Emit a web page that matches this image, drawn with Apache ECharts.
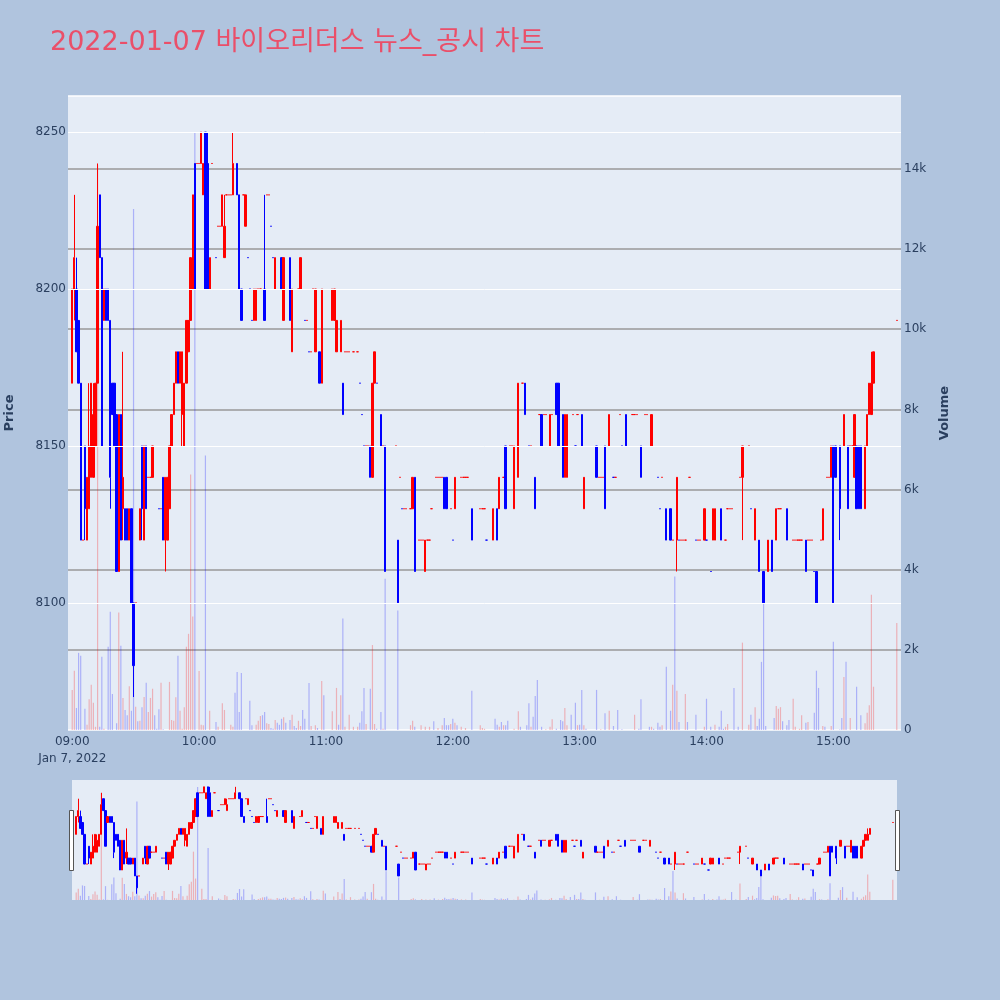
<!DOCTYPE html>
<html><head><meta charset="utf-8">
<script src="https://cdn.jsdelivr.net/npm/echarts@6/dist/echarts.min.js"></script>
<style>html,body{margin:0;padding:0;background:#b0c4de;}#c{width:1000px;height:1000px;}</style>
</head><body><div id="c"></div>
<script>
const TITLE = '2022-01-07 바이오리더스 뉴스_공시 차트';
const DAY_LABEL = 'Jan 7, 2022';
const priceTicks = [8100, 8150, 8200, 8250];
const hourTicks = ['09:00','10:00','11:00','12:00','13:00','14:00','15:00'];

// one-minute candles (minutes without trades are absent)
const candleTimes = [
 '09:00','09:01','09:02','09:03','09:04','09:05','09:06','09:07','09:08','09:09',
 '09:10','09:11','09:12','09:13','09:14','09:15','09:16','09:17','09:18','09:19',
 '09:20','09:21','09:22','09:23','09:24','09:25','09:26','09:27','09:28','09:29',
 '09:30','09:32','09:33','09:34','09:35','09:36','09:37','09:38','09:41','09:42',
 '09:43','09:44','09:45','09:46','09:47','09:48','09:49','09:50','09:51','09:52',
 '09:53','09:54','09:55','09:56','09:57','09:58','09:59',
 '10:00','10:01','10:02','10:03','10:04','10:05','10:06','10:08','10:09','10:10',
 '10:11','10:12','10:13','10:14','10:15','10:16','10:18','10:19','10:20','10:21',
 '10:22','10:23','10:24','10:25','10:26','10:27','10:28','10:29','10:31','10:32',
 '10:33','10:34','10:35','10:36','10:39','10:40','10:43','10:44','10:47','10:48',
 '10:50','10:51','10:52','10:53','10:54','10:55','10:57','10:58',
 '11:03','11:04','11:05','11:07','11:08','11:09','11:10','11:11','11:13','11:15',
 '11:16','11:17','11:18','11:19','11:20','11:21','11:22','11:23','11:24','11:26',
 '11:27','11:28','11:33','11:34','11:35','11:36','11:37','11:38','11:40','11:41',
 '11:42','11:44','11:45','11:46','11:47','11:48','11:49','11:50','11:52','11:53',
 '11:54','11:55','11:56','11:57','11:59',
 '12:00','12:01','12:04','12:05','12:06','12:07','12:09','12:13','12:14','12:15',
 '12:16','12:19','12:21','12:22','12:24','12:25','12:27','12:28','12:29','12:31',
 '12:33','12:34','12:36','12:37','12:39','12:41','12:42','12:43','12:44','12:46',
 '12:47','12:49','12:50','12:52','12:53','12:54','12:57','12:58','12:59',
 '13:01','13:02','13:08','13:09','13:10','13:11','13:12','13:14','13:16','13:17',
 '13:19','13:20','13:22','13:25','13:26','13:27','13:29','13:31','13:32','13:34',
 '13:37','13:38','13:39','13:41','13:43','13:44','13:46','13:47','13:48','13:49',
 '13:50','13:52','13:55','13:56','13:57','13:59',
 '14:00','14:02','14:03','14:04','14:07','14:09','14:10','14:11','14:12','14:16',
 '14:17','14:20','14:21','14:23','14:25','14:27','14:29','14:31','14:33','14:34',
 '14:35','14:38','14:41','14:42','14:43','14:44','14:45','14:47','14:48','14:49',
 '14:50','14:51','14:52','14:54','14:55','14:57','14:58','14:59',
 '15:00','15:01','15:03','15:05','15:07','15:08','15:09','15:10','15:11','15:12',
 '15:13','15:15','15:16','15:17','15:18','15:19','15:30'
];
const opens = [
 8170,8200,8200,8190,8170,8120,8150,8120,8130,8140,
 8140,8150,8170,8230,8210,8190,8200,8200,8190,8170,
 8170,8160,8110,8160,8130,8130,8130,8120,8130,8100,
 8100,8120,8150,8120,8150,8140,8140,8140,8130,8130,
 8140,8120,8120,8130,8150,8160,8170,8180,8170,8160,
 8150,8170,8180,8190,8200,8240,8240,
 8240,8240,8230,8250,8240,8200,8240,8210,8220,8220,
 8220,8210,8230,8230,8230,8230,8240,8230,8200,8230,
 8220,8210,8200,8190,8190,8190,8200,8200,8200,8230,
 8230,8220,8210,8200,8210,8190,8210,8180,8200,8200,
 8190,8190,8180,8180,8200,8180,8180,8170,
 8190,8190,8180,8180,8170,8180,8180,8180,8180,8180,
 8170,8160,8150,8150,8150,8150,8140,8170,8170,8160,
 8150,8150,8150,8120,8140,8130,8130,8130,8130,8130,
 8140,8120,8120,8120,8110,8120,8120,8130,8140,8140,
 8140,8140,8140,8140,8130,
 8120,8130,8140,8140,8140,8140,8130,8130,8130,8130,
 8120,8120,8130,8130,8140,8150,8150,8150,8130,8140,
 8170,8170,8150,8150,8140,8160,8160,8160,8160,8150,
 8160,8170,8170,8160,8140,8140,8160,8150,8160,
 8160,8130,8150,8140,8140,8140,8150,8150,8140,8140,
 8160,8150,8160,8160,8160,8160,8150,8160,8160,8150,
 8140,8130,8140,8130,8130,8120,8120,8120,8120,8120,
 8120,8140,8120,8120,8120,8120,
 8120,8110,8120,8120,8130,8120,8130,8130,8130,8140,
 8140,8150,8130,8120,8120,8110,8110,8120,8120,8130,
 8130,8130,8120,8120,8120,8120,8120,8120,8120,8120,
 8120,8110,8110,8120,8120,8140,8140,8140,
 8150,8150,8150,8150,8150,8150,8150,8140,8150,8150,
 8150,8130,8150,8160,8160,8170,8190
];
const highs = [
 8200,8230,8210,8190,8170,8120,8150,8140,8170,8170,
 8170,8170,8240,8230,8210,8200,8200,8200,8190,8170,
 8170,8160,8160,8160,8180,8130,8130,8130,8130,8100,
 8100,8130,8150,8150,8150,8140,8140,8150,8130,8130,
 8140,8140,8140,8150,8160,8170,8180,8180,8180,8180,
 8170,8190,8190,8210,8230,8240,8240,
 8240,8250,8240,8250,8250,8210,8240,8210,8220,8220,
 8230,8230,8230,8230,8230,8250,8240,8230,8200,8230,
 8230,8210,8200,8190,8200,8200,8200,8200,8230,8230,
 8230,8220,8210,8210,8210,8210,8210,8200,8200,8210,
 8190,8190,8180,8180,8200,8200,8180,8200,
 8200,8200,8190,8190,8170,8180,8180,8180,8180,8180,
 8170,8160,8150,8150,8150,8150,8170,8180,8170,8160,
 8150,8150,8150,8120,8140,8130,8130,8130,8130,8140,
 8140,8120,8120,8120,8120,8120,8120,8130,8140,8140,
 8140,8140,8140,8140,8130,
 8120,8140,8140,8140,8140,8140,8130,8130,8130,8130,
 8120,8130,8130,8140,8140,8150,8150,8150,8150,8170,
 8170,8170,8150,8150,8140,8160,8160,8160,8160,8160,
 8160,8170,8170,8160,8160,8160,8160,8150,8160,
 8160,8140,8150,8140,8140,8140,8150,8160,8140,8140,
 8160,8150,8160,8160,8160,8160,8150,8160,8160,8160,
 8140,8130,8140,8130,8130,8120,8140,8120,8120,8120,
 8120,8140,8120,8120,8120,8130,
 8120,8110,8130,8130,8130,8120,8130,8130,8130,8140,
 8150,8150,8130,8130,8120,8110,8120,8120,8130,8130,
 8130,8130,8120,8120,8120,8120,8120,8120,8120,8120,
 8120,8110,8110,8120,8130,8140,8140,8150,
 8150,8150,8150,8160,8150,8150,8150,8160,8150,8150,
 8150,8150,8160,8170,8180,8180,8190
];
const lows = [
 8170,8190,8180,8170,8120,8120,8120,8120,8130,8140,
 8140,8150,8170,8210,8150,8190,8190,8190,8130,8160,
 8150,8110,8110,8120,8120,8120,8120,8120,8100,8070,
 8100,8120,8120,8120,8130,8140,8140,8140,8130,8130,
 8120,8110,8120,8130,8150,8160,8170,8170,8170,8150,
 8150,8170,8180,8190,8200,8200,8240,
 8240,8240,8230,8200,8200,8200,8240,8210,8220,8220,
 8220,8210,8230,8230,8230,8230,8230,8200,8190,8230,
 8220,8210,8200,8190,8190,8190,8200,8200,8190,8230,
 8230,8220,8210,8200,8200,8190,8190,8180,8200,8200,
 8190,8190,8180,8180,8200,8180,8170,8170,
 8190,8190,8180,8180,8160,8180,8180,8180,8180,8180,
 8170,8160,8150,8150,8150,8140,8140,8170,8170,8150,
 8150,8110,8150,8100,8140,8130,8130,8130,8130,8130,
 8110,8120,8120,8120,8110,8120,8120,8130,8140,8140,
 8140,8140,8130,8130,8130,
 8120,8130,8140,8140,8140,8140,8120,8130,8130,8130,
 8120,8120,8120,8130,8140,8130,8150,8150,8130,8140,
 8170,8160,8150,8150,8130,8160,8150,8160,8160,8150,
 8160,8160,8150,8140,8140,8140,8160,8150,8160,
 8150,8130,8140,8140,8140,8140,8130,8150,8140,8140,
 8160,8150,8150,8160,8160,8160,8140,8160,8160,8150,
 8140,8130,8140,8120,8120,8120,8110,8120,8120,8120,
 8120,8140,8120,8120,8120,8120,
 8120,8110,8120,8120,8120,8120,8130,8130,8130,8140,
 8120,8150,8130,8120,8110,8100,8110,8110,8120,8130,
 8130,8120,8120,8120,8120,8120,8120,8110,8120,8120,
 8120,8110,8100,8120,8120,8140,8140,8140,
 8100,8140,8120,8150,8130,8150,8150,8140,8130,8130,
 8130,8130,8150,8160,8160,8170,8190
];
const closes = [
 8200,8210,8180,8170,8120,8120,8130,8140,8150,8170,
 8160,8170,8220,8210,8150,8200,8190,8190,8140,8160,
 8150,8110,8160,8120,8140,8120,8120,8130,8100,8080,
 8100,8130,8130,8150,8130,8140,8140,8150,8130,8130,
 8120,8140,8140,8150,8160,8170,8180,8170,8180,8180,
 8170,8190,8190,8210,8230,8200,8240,
 8240,8250,8240,8200,8200,8210,8240,8210,8220,8220,
 8230,8220,8230,8230,8230,8240,8230,8200,8190,8230,
 8230,8210,8200,8190,8200,8200,8200,8200,8190,8230,
 8230,8220,8210,8210,8200,8210,8190,8200,8200,8210,
 8190,8190,8180,8180,8200,8200,8170,8200,
 8200,8200,8190,8190,8160,8180,8180,8180,8180,8180,
 8170,8160,8150,8150,8150,8140,8170,8180,8170,8150,
 8150,8110,8150,8100,8140,8130,8130,8130,8130,8140,
 8110,8120,8120,8120,8120,8120,8120,8130,8140,8140,
 8140,8140,8130,8130,8130,
 8120,8140,8140,8140,8140,8140,8120,8130,8130,8130,
 8120,8130,8120,8140,8140,8130,8150,8150,8150,8170,
 8170,8160,8150,8150,8130,8160,8150,8160,8160,8160,
 8160,8160,8150,8140,8160,8160,8160,8150,8160,
 8150,8140,8140,8140,8140,8140,8130,8160,8140,8140,
 8160,8150,8150,8160,8160,8160,8140,8160,8160,8160,
 8140,8130,8140,8120,8120,8120,8140,8120,8120,8120,
 8120,8140,8120,8120,8120,8130,
 8120,8110,8130,8130,8120,8120,8130,8130,8130,8140,
 8150,8150,8130,8130,8110,8100,8120,8110,8130,8130,
 8130,8120,8120,8120,8120,8120,8120,8110,8120,8120,
 8120,8110,8100,8120,8130,8140,8140,8150,
 8100,8140,8130,8160,8130,8150,8150,8160,8130,8130,
 8130,8150,8160,8170,8170,8180,8190
];

// one-minute volume
const volTimes = [
 '09:00','09:01','09:02','09:03','09:04','09:06','09:07','09:08','09:09','09:10',
 '09:11','09:12','09:13','09:14','09:15','09:17','09:18','09:19','09:21','09:22',
 '09:23','09:24','09:25','09:26','09:27','09:28','09:29','09:30','09:31','09:32',
 '09:33','09:34','09:35','09:36','09:37','09:38','09:39','09:40','09:41','09:42',
 '09:43','09:46','09:47','09:48','09:49','09:50','09:51','09:52','09:53','09:54',
 '09:55','09:56','09:57','09:58',
 '10:00','10:01','10:02','10:03','10:05','10:08','10:09','10:11','10:12','10:15',
 '10:16','10:17','10:18','10:19','10:20','10:24','10:25','10:27','10:28','10:29',
 '10:30','10:31','10:32','10:33','10:34','10:35','10:36','10:37','10:38','10:39',
 '10:40','10:41','10:43','10:44','10:45','10:46','10:47','10:48','10:49','10:50',
 '10:52','10:53','10:55','10:56','10:58','10:59',
 '11:03','11:05','11:06','11:07','11:08','11:09','11:11','11:13','11:15','11:16',
 '11:17','11:18','11:19','11:21','11:22','11:23','11:24','11:26','11:27','11:28',
 '11:34','11:40','11:41','11:42','11:45','11:47','11:49','11:51','11:53','11:55',
 '11:56','11:57','11:58','11:59',
 '12:00','12:01','12:02','12:04','12:06','12:09','12:13','12:14','12:15','12:20',
 '12:21','12:22','12:23','12:24','12:25','12:26','12:29','12:31','12:32','12:35',
 '12:36','12:37','12:38','12:39','12:40','12:42','12:44','12:46','12:47','12:49',
 '12:51','12:52','12:53','12:54','12:56','12:58','12:59',
 '13:00','13:01','13:02','13:03','13:08','13:10','13:12','13:14','13:16','13:18',
 '13:20','13:26','13:28','13:29','13:33','13:34','13:35','13:37','13:38','13:39',
 '13:41','13:43','13:44','13:45','13:46','13:47','13:50','13:51','13:55','13:59',
 '14:00','14:02','14:04','14:06','14:07','14:08','14:09','14:10','14:13','14:15',
 '14:17','14:20','14:21','14:23','14:24','14:25','14:26','14:27','14:28','14:32',
 '14:33','14:34','14:35','14:36','14:38','14:39','14:41','14:42','14:44','14:45',
 '14:47','14:48','14:51','14:52','14:53','14:55','14:56','14:59',
 '15:00','15:03','15:04','15:05','15:06','15:08','15:11','15:13','15:15','15:16',
 '15:17','15:18','15:19','15:30'
];
const volumes = [
 1000,1480,550,1925,1850,530,130,770,1130,680,
 80,14100,80,1830,30,2075,2950,900,170,2930,
 2100,800,500,370,1090,480,13000,580,220,230,
 570,825,1180,450,800,1030,370,30,520,1180,
 20,1200,250,230,820,1850,480,30,570,2080,
 2400,6375,2830,14900,
 1470,130,120,6850,480,200,80,670,500,130,
 80,930,1450,450,1420,730,120,130,230,350,
 370,450,170,150,50,30,250,180,130,280,
 320,180,250,380,100,50,230,100,500,280,
 1170,100,120,50,1220,870,
 470,1050,130,870,2780,80,380,80,80,180,
 470,1050,150,1030,2120,150,30,450,30,3775,
 2980,120,230,80,120,80,80,220,50,120,
 300,120,120,150,
 280,180,120,80,50,980,120,50,30,280,
 130,80,200,120,120,230,30,470,80,120,
 670,80,330,850,1250,80,20,80,270,30,
 250,220,550,120,380,680,120,
 130,1000,120,30,1000,20,420,480,100,500,
 20,380,30,770,80,80,30,180,80,120,
 1580,480,1130,3830,980,200,900,200,380,80,
 780,80,130,80,480,30,80,150,1050,80,
 2180,130,380,570,100,280,1700,3275,100,300,
 600,530,570,220,120,250,780,80,30,370,
 180,200,430,1480,1050,100,80,100,
 2200,10,300,1320,1700,300,1080,370,170,430,
 620,3375,1080,2670
];

// ---- build ----
const START = 9 * 60, FIRST = -2, LAST = 392;
const pad = n => String(n).padStart(2, '0');
const toLabel = m => pad(Math.floor((START + m) / 60)) + ':' + pad((START + m) % 60);
const cats = [];
for (let m = FIRST; m <= LAST; m++) cats.push(toLabel(m));
const idxOf = t => cats.indexOf(t);
const UP = '#ff0000', DOWN = '#0000ff';
const VUP = 'rgba(255,0,0,0.25)', VDOWN = 'rgba(0,0,255,0.25)';

const candleData = cats.map(() => ['-', '-', '-', '-']);
const dirAt = {};
let prevClose = null;
candleTimes.forEach((t, i) => {
  const o = opens[i], c = closes[i];
  const up = c > o || (c === o && (prevClose === null || c >= prevClose));
  prevClose = c;
  dirAt[t] = up;
  const col = up ? UP : DOWN;
  candleData[idxOf(t)] = {
    value: [o, c, lows[i], highs[i]],
    itemStyle: { color: col, color0: col, borderColor: col, borderColor0: col }
  };
});
const volData = cats.map(() => '-');
volTimes.forEach((t, i) => {
  volData[idxOf(t)] = { value: volumes[i], itemStyle: { color: dirAt[t] ? VUP : VDOWN } };
});

const FONT = 'DejaVu Sans, Noto Sans CJK KR, sans-serif';
const TXT = '#2a3f5f';
const PMIN = 8059.5, PMAX = 8261.5, VMAX = 15820;

const chart = echarts.init(document.getElementById('c'), null, { renderer: 'canvas' });
chart.setOption({
  animation: false,
  backgroundColor: '#b0c4de',
  title: {
    text: TITLE, left: 45, top: 24,
    textStyle: { fontSize: 27, color: '#ea4f69', fontWeight: 'normal', fontFamily: FONT }
  },
  grid: [
    { left: 68, right: 99, top: 96, height: 634, show: true, backgroundColor: '#e5ecf6', borderWidth: 0, outerBoundsMode: 'none', containLabel: false },
    { left: 72, right: 103, top: 780, height: 120, show: true, backgroundColor: '#e5ecf6', borderWidth: 0, outerBoundsMode: 'none', containLabel: false }
  ],
  xAxis: [
    {
      type: 'category', gridIndex: 0, data: cats, boundaryGap: false,
      axisLine: { show: false }, axisTick: { show: false }, splitLine: { show: false },
      axisLabel: {
        interval: (i, v) => hourTicks.indexOf(v) >= 0,
        formatter: v => v === hourTicks[0] ? v + '\n' + DAY_LABEL : v,
        color: TXT, fontSize: 12, fontFamily: FONT, margin: 3, lineHeight: 17
      }
    },
    {
      type: 'category', gridIndex: 1, data: cats, boundaryGap: false, show: false
    }
  ],
  yAxis: [
    {
      type: 'value', gridIndex: 0, position: 'left', min: PMIN, max: PMAX,
      axisLine: { show: false }, axisTick: { show: false }, splitLine: { show: false },
      axisLabel: { customValues: priceTicks, formatter: v => String(v), color: TXT, fontSize: 12, fontFamily: FONT, margin: 2 },
      name: 'Price', nameLocation: 'middle', nameRotate: 90, nameGap: 52,
      nameTextStyle: { fontSize: 13, fontWeight: 'bold', color: TXT, fontFamily: FONT }
    },
    {
      type: 'value', gridIndex: 0, position: 'right', min: 0, max: VMAX, interval: 2000,
      axisLine: { show: false }, axisTick: { show: false },
      splitLine: { show: true, lineStyle: { color: ['#ffffff', '#999999', '#999999', '#999999', '#999999', '#999999', '#999999', '#999999'], width: 1.5 } },
      axisLabel: {
        formatter: v => v === 0 ? '0' : (v / 1000) + 'k',
        showMaxLabel: false, color: TXT, fontSize: 12, fontFamily: FONT, margin: 3
      },
      name: 'Volume', nameLocation: 'middle', nameRotate: 90, nameGap: 37,
      nameTextStyle: { fontSize: 13, fontWeight: 'bold', color: TXT, fontFamily: FONT }
    },
    { type: 'value', gridIndex: 1, min: PMIN, max: PMAX, show: false, splitLine: { show: false } },
    { type: 'value', gridIndex: 1, min: 0, max: VMAX, show: false, splitLine: { show: false } }
  ],
  series: [
    {
      type: 'line', xAxisIndex: 0, yAxisIndex: 0, data: [], z: 1, silent: true,
      markLine: {
        silent: true, symbol: 'none', animation: false, label: { show: false },
        lineStyle: { color: '#ffffff', width: 1, type: 'solid' },
        data: priceTicks.map(v => ({ yAxis: v }))
      }
    },
    {
      type: 'bar', xAxisIndex: 0, yAxisIndex: 1, data: volData, barWidth: 1.2, z: 2, silent: true
    },
    {
      type: 'candlestick', xAxisIndex: 0, yAxisIndex: 0, data: candleData, barWidth: 1.8, z: 3, silent: true,
      itemStyle: { borderWidth: 1 }
    },
    {
      type: 'bar', xAxisIndex: 1, yAxisIndex: 3, data: volData, barWidth: 1.2, z: 2, silent: true
    },
    {
      type: 'candlestick', xAxisIndex: 1, yAxisIndex: 2, data: candleData, barWidth: 1.8, z: 3, silent: true,
      itemStyle: { borderWidth: 1 }
    }
  ],
  graphic: [
    { type: 'rect', shape: { x: 69.5, y: 810.5, width: 4, height: 60 }, style: { fill: '#ffffff', stroke: '#555555', lineWidth: 1 }, z: 10 },
    { type: 'rect', shape: { x: 895.5, y: 810.5, width: 4, height: 60 }, style: { fill: '#ffffff', stroke: '#555555', lineWidth: 1 }, z: 10 }
  ]
});
</script>
</body></html>
